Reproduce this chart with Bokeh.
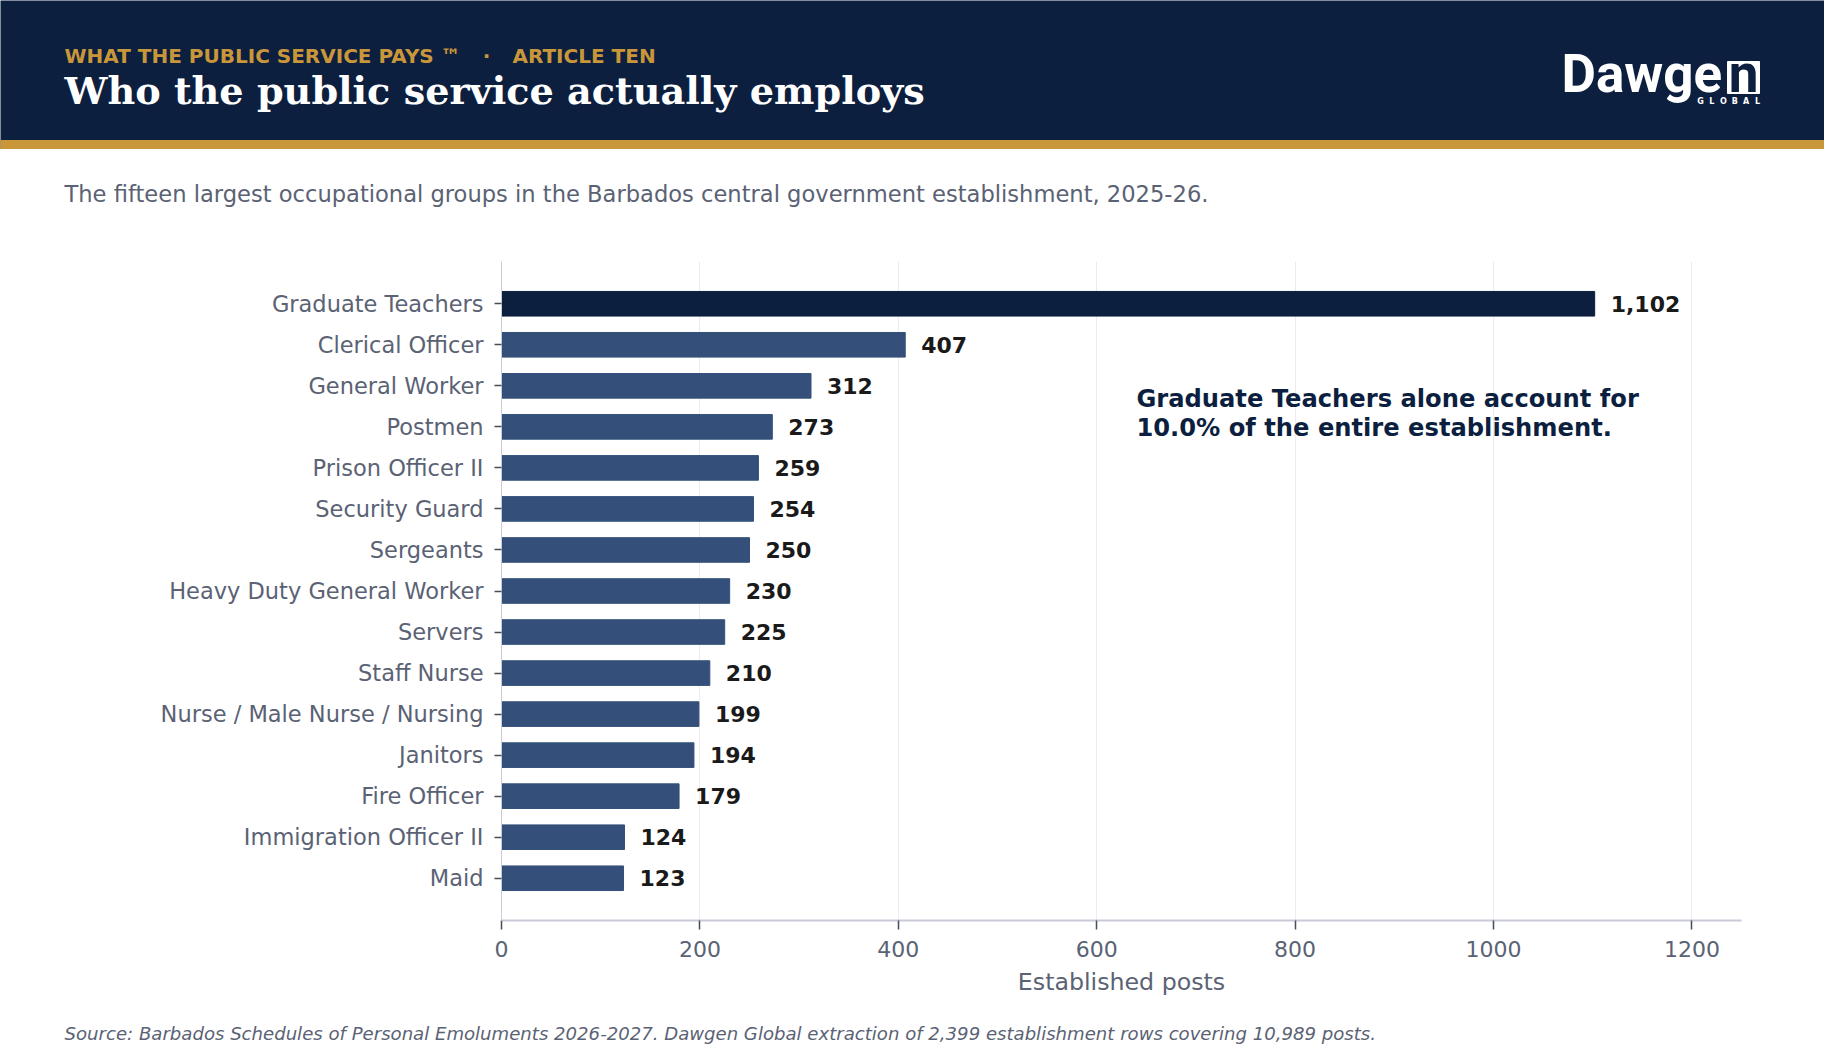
from bokeh.plotting import figure
from bokeh.models import (ColumnDataSource, FactorRange, Range1d, Label,
                          SingleIntervalTicker)
from bokeh.core.properties import value
from bokeh.embed import file_html
from bokeh.resources import INLINE

# data
groups = ["Graduate Teachers", "Clerical Officer", "General Worker", "Postmen",
          "Prison Officer II", "Security Guard", "Sergeants",
          "Heavy Duty General Worker", "Servers", "Staff Nurse",
          "Nurse / Male Nurse / Nursing", "Janitors", "Fire Officer",
          "Immigration Officer II", "Maid"]
posts = [1102, 407, 312, 273, 259, 254, 250, 230, 225, 210, 199, 194, 179, 124, 123]
total_posts = 10989
x_ticks = [0, 200, 400, 600, 800, 1000, 1200]

NAVY = "#0d1f3f"
BAR = "#34507a"
GOLD = "#c9973a"
GREY = "#5a6274"
SANS = "DejaVu Sans"
W = 1824


def strip(h, y0, fill="white"):
    # full-bleed figure; data coords = page pixels (y downwards)
    f = figure(width=W, height=h, x_range=Range1d(0, W), y_range=Range1d(y0 + h, y0),
               output_backend="svg", toolbar_location=None, min_border=0,
               x_axis_type=None, y_axis_type=None)
    f.grid.visible = False
    f.outline_line_color = None
    f.background_fill_color = fill
    f.border_fill_color = fill
    return f


def put(f, x, y, text, color, size, font=SANS, style="normal", align="left"):
    f.text(x=[x], y=[y], text=[text], text_color=color, text_font=value(font),
           text_font_style=style, text_font_size=size, text_align=align,
           text_baseline="middle")


# header band
head = strip(149, 0, NAVY)
head.quad(left=0, right=W, top=140, bottom=149, color=GOLD)
put(head, 64, 55, "WHAT THE PUBLIC SERVICE PAYS \u2122", GOLD, "20px", style="bold")
put(head, 486, 55, "\u00b7", GOLD, "20px", style="bold", align="center")
put(head, 512, 55, "ARTICLE TEN", GOLD, "20px", style="bold")
put(head, 64, 90, "Who the public service actually employs", "white", "38.2px",
    font="DejaVu Serif", style="bold")

# logo
put(head, 1561, 73, "Dawge", "white", "53px", font="Roboto", style="bold")
head.quad(left=1727, right=1759, top=61, bottom=93, color="white")
put(head, 1743, 73, "n", NAVY, "53px", font="Roboto", style="bold", align="center")
for i, ch in enumerate("GLOBAL"):
    put(head, 1700 + 11.4 * i, 101, ch, "white", "8px", style="bold", align="center")

# subtitle
sub = strip(80, 149)
put(sub, 64, 193, "The fifteen largest occupational groups in the Barbados central "
    "government establishment, 2025-26.", GREY, "22.6px")

# chart
src = ColumnDataSource(dict(
    group=groups,
    posts=posts,
    label=["{:,}".format(v) for v in posts],
    color=[NAVY if i == 0 else BAR for i in range(len(groups))],
))

p = figure(frame_width=1240, frame_height=659,
           y_range=FactorRange(*groups[::-1], range_padding=0.53, range_padding_units="absolute"),
           x_range=Range1d(0, 1250),
           output_backend="svg", toolbar_location=None,
           min_border_left=501, min_border_right=83, min_border_top=32, min_border_bottom=85)
p.outline_line_color = None
p.background_fill_color = "white"
p.border_fill_color = "white"

p.hbar(y="group", left=0, right="posts", height=0.6, color="color", source=src)
p.text(x="posts", y="group", text="label", source=src, x_offset=16,
       text_baseline="middle", text_color="#1a1a1a", text_font=value(SANS),
       text_font_style="bold", text_font_size="22px")

share = 100.0 * posts[0] / total_posts
p.add_layout(Label(x=640, y=12.17, text="Graduate Teachers alone account for",
                   text_baseline="middle", text_color=NAVY, text_font=SANS,
                   text_font_style="bold", text_font_size="24.2px"))
p.add_layout(Label(x=640, y=11.48, text="%.1f%% of the entire establishment." % share,
                   text_baseline="middle", text_color=NAVY, text_font=SANS,
                   text_font_style="bold", text_font_size="24.2px"))

p.xaxis.ticker = SingleIntervalTicker(interval=200)
p.xaxis.axis_label = "Established posts"
p.xaxis.axis_label_text_font = SANS
p.xaxis.axis_label_text_font_style = "normal"
p.xaxis.axis_label_text_font_size = "23.7px"
p.xaxis.axis_label_text_color = GREY
p.xaxis.axis_label_standoff = 8
p.axis.major_label_text_font = SANS
p.axis.major_label_text_color = GREY
p.xaxis.major_label_text_font_size = "22px"
p.yaxis.major_label_text_font_size = "22.5px"
p.axis.axis_line_color = "#c9cbd9"
p.xaxis.axis_line_width = 2
p.axis.major_tick_line_color = "#4a4d57"
p.axis.major_tick_line_width = 1.5
p.axis.major_tick_in = 0
p.xaxis.major_tick_out = 9
p.yaxis.major_tick_out = 7
p.axis.minor_tick_line_color = None
p.xaxis.major_label_standoff = 11
p.yaxis.major_label_standoff = 11

p.xgrid.ticker = x_ticks
p.xgrid.grid_line_color = "#ebebf0"
p.ygrid.grid_line_color = None

# footer
foot = strip(59, 1005)
put(foot, 64, 1033, "Source: Barbados Schedules of Personal Emoluments 2026-2027. Dawgen Global "
    "extraction of 2,399 establishment rows covering 10,989 posts.", GREY, "18.1px", style="italic")

open("out.html", "w").write(file_html([head, sub, p, foot], INLINE))
